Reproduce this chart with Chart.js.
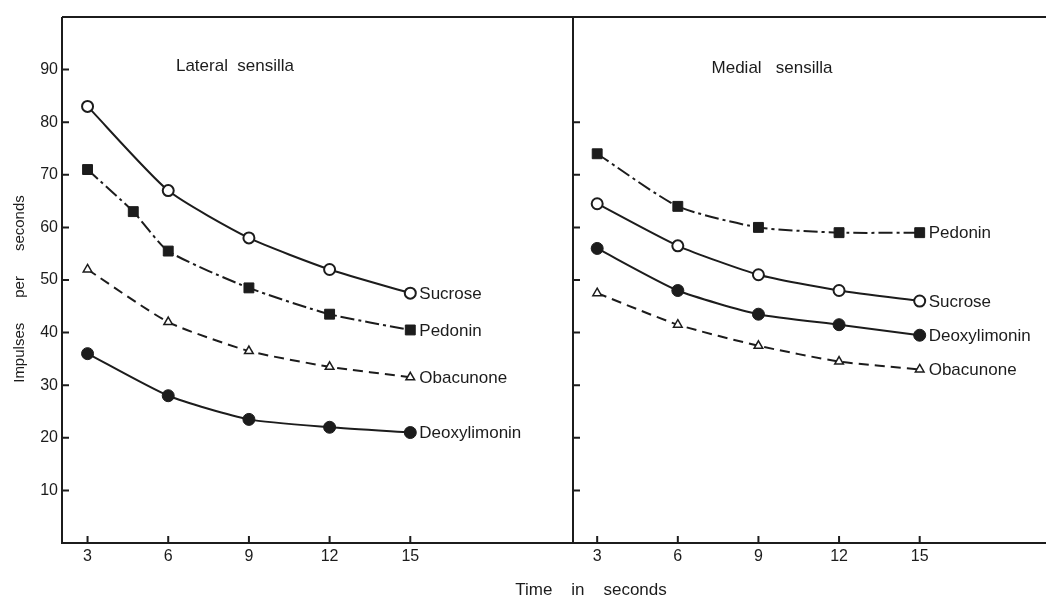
<!DOCTYPE html>
<html>
<head>
<meta charset="utf-8">
<script src="https://cdn.jsdelivr.net/npm/chart.js@4.4.0/dist/chart.umd.min.js"></script>
<style>
  html, body { margin: 0; padding: 0; background: #fff; }
  #wrap { position: relative; width: 1046px; height: 598px; }
  #wrap canvas { position: absolute; left: 0; top: 0; }
</style>
</head>
<body>
<div id="wrap">
  <canvas id="lateral" width="1046" height="598"></canvas>
  <canvas id="medial" width="1046" height="598"></canvas>
</div>
<script>
// time points (seconds)
var times = [3, 6, 9, 12, 15];
var pedoninLateralTimes = [3, 4.7, 6, 9, 12, 15];
var xTicks = [3, 6, 9, 12, 15];
var yTicksLateral = [10, 20, 30, 40, 50, 60, 70, 80, 90];
var yTicksMedial = [10, 20, 30, 40, 50, 60, 70, 80];

// lateral sensilla, impulses per second
var lateralSucrose = [83, 67, 58, 52, 47.5];
var lateralPedonin = [71, 63, 55.5, 48.5, 43.5, 40.5];
var lateralObacunone = [52, 42, 36.5, 33.5, 31.5];
var lateralDeoxylimonin = [36, 28, 23.5, 22, 21];

// medial sensilla
var medialPedonin = [74, 64, 60, 59, 59];
var medialSucrose = [64.5, 56.5, 51, 48, 46];
var medialDeoxylimonin = [56, 48, 43.5, 41.5, 39.5];
var medialObacunone = [47.5, 41.5, 37.5, 34.5, 33];

var INK = '#1c1c1c';
var FONT = '"Liberation Sans", Arial, Helvetica, sans-serif';

function pts(xs, ys) {
  return xs.map(function (x, i) { return { x: x, y: ys[i] }; });
}

var styles = {
  Sucrose:      { shape: 'circle',   fill: '#fff', r: 5.5, bw: 2,   dash: [] },
  Pedonin:      { shape: 'rect',     fill: INK,    r: 7,   bw: 1,   dash: [14, 4, 3, 4] },
  Obacunone:    { shape: 'triangle', fill: '#fff', r: 5,   bw: 1.5, dash: [10, 6] },
  Deoxylimonin: { shape: 'circle',   fill: INK,    r: 6,   bw: 1,   dash: [] }
};

function makeSet(name, xs, ys) {
  var s = styles[name];
  return {
    label: name,
    data: pts(xs, ys),
    borderColor: INK,
    borderWidth: 2,
    borderDash: s.dash,
    tension: 0.2,
    fill: false,
    pointStyle: s.shape,
    pointRadius: s.r,
    pointBackgroundColor: s.fill,
    pointBorderColor: INK,
    pointBorderWidth: s.bw
  };
}

// frame, inward ticks, panel title and end-of-line labels
var framePlugin = {
  id: 'frame',
  afterDraw: function (chart) {
    var o = chart.options.plugins.frame;
    var a = chart.chartArea, ctx = chart.ctx;
    var xs = chart.scales.x, ys = chart.scales.y;
    ctx.save();
    ctx.strokeStyle = INK;
    ctx.lineWidth = 2;
    ctx.beginPath();
    ctx.moveTo(a.left, a.top); ctx.lineTo(a.right, a.top);
    ctx.moveTo(a.left, a.top); ctx.lineTo(a.left, a.bottom);
    ctx.moveTo(a.left - 1, a.bottom); ctx.lineTo(a.right, a.bottom);
    if (o.rightEdge) { ctx.moveTo(a.right, a.top); ctx.lineTo(a.right, a.bottom); }
    o.yTicks.forEach(function (v) {
      var py = ys.getPixelForValue(v);
      ctx.moveTo(a.left, py); ctx.lineTo(a.left + 7, py);
    });
    xTicks.forEach(function (v) {
      var px = xs.getPixelForValue(v);
      ctx.moveTo(px, a.bottom); ctx.lineTo(px, a.bottom - 7);
    });
    ctx.stroke();

    ctx.fillStyle = INK;
    ctx.font = '17px ' + FONT;
    ctx.textAlign = 'center';
    ctx.textBaseline = 'middle';
    ctx.fillText(o.title, o.titleX, o.titleY);

    ctx.textAlign = 'left';
    chart.data.datasets.forEach(function (ds, i) {
      var meta = chart.getDatasetMeta(i);
      var last = meta.data[meta.data.length - 1];
      ctx.fillText(ds.label, last.x + 9, last.y + 1);
    });

    if (o.axisTitles) {
      ctx.font = '15px ' + FONT;
      ctx.save();
      ctx.translate(20, 289);
      ctx.rotate(-Math.PI / 2);
      ctx.textAlign = 'center';
      ctx.fillText('Impulses      per      seconds', 0, 0);
      ctx.restore();
      ctx.font = '17px ' + FONT;
      ctx.textAlign = 'center';
      ctx.fillText('Time    in    seconds', 591, 590);
    }
    ctx.restore();
  }
};

function tickFont() { return { family: FONT, size: 16 }; }

function buildOptions(cfg) {
  return {
    responsive: false,
    animation: false,
    layout: { padding: cfg.padding, autoPadding: false },
    plugins: {
      legend: { display: false },
      tooltip: { enabled: false },
      frame: cfg.frame
    },
    scales: {
      x: {
        type: 'linear',
        min: cfg.xMin,
        max: cfg.xMax,
        afterBuildTicks: function (s) { s.ticks = xTicks.map(function (v) { return { value: v }; }); },
        afterFit: function (s) { s.height = 55; },
        grid: { display: false, drawTicks: false },
        border: { display: false },
        ticks: { font: tickFont(), color: INK, padding: 4 }
      },
      y: {
        type: 'linear',
        display: cfg.yLabels,
        min: 0,
        max: 100,
        afterBuildTicks: function (s) { s.ticks = yTicksLateral.map(function (v) { return { value: v }; }); },
        afterFit: function (s) { s.width = cfg.yWidth; },
        grid: { display: false, drawTicks: false },
        border: { display: false },
        ticks: { font: tickFont(), color: INK, padding: 4 }
      }
    }
  };
}

new Chart(document.getElementById('lateral'), {
  type: 'line',
  data: {
    datasets: [
      makeSet('Sucrose', times, lateralSucrose),
      makeSet('Pedonin', pedoninLateralTimes, lateralPedonin),
      makeSet('Obacunone', times, lateralObacunone),
      makeSet('Deoxylimonin', times, lateralDeoxylimonin)
    ]
  },
  options: buildOptions({
    padding: { left: 0, top: 17, right: 473, bottom: 0 },
    xMin: 2.05, xMax: 21.05, yLabels: true, yWidth: 62,
    frame: { title: 'Lateral  sensilla', titleX: 235, titleY: 66, yTicks: yTicksLateral, rightEdge: true, axisTitles: true }
  }),
  plugins: [framePlugin]
});

new Chart(document.getElementById('medial'), {
  type: 'line',
  data: {
    datasets: [
      makeSet('Pedonin', times, medialPedonin),
      makeSet('Sucrose', times, medialSucrose),
      makeSet('Deoxylimonin', times, medialDeoxylimonin),
      makeSet('Obacunone', times, medialObacunone)
    ]
  },
  options: buildOptions({
    padding: { left: 573, top: 17, right: 0, bottom: 0 },
    xMin: 2.1, xMax: 19.7, yLabels: false, yWidth: 0,
    frame: { title: 'Medial   sensilla', titleX: 772, titleY: 68, yTicks: yTicksMedial, rightEdge: false, axisTitles: false }
  }),
  plugins: [framePlugin]
});
</script>
</body>
</html>
